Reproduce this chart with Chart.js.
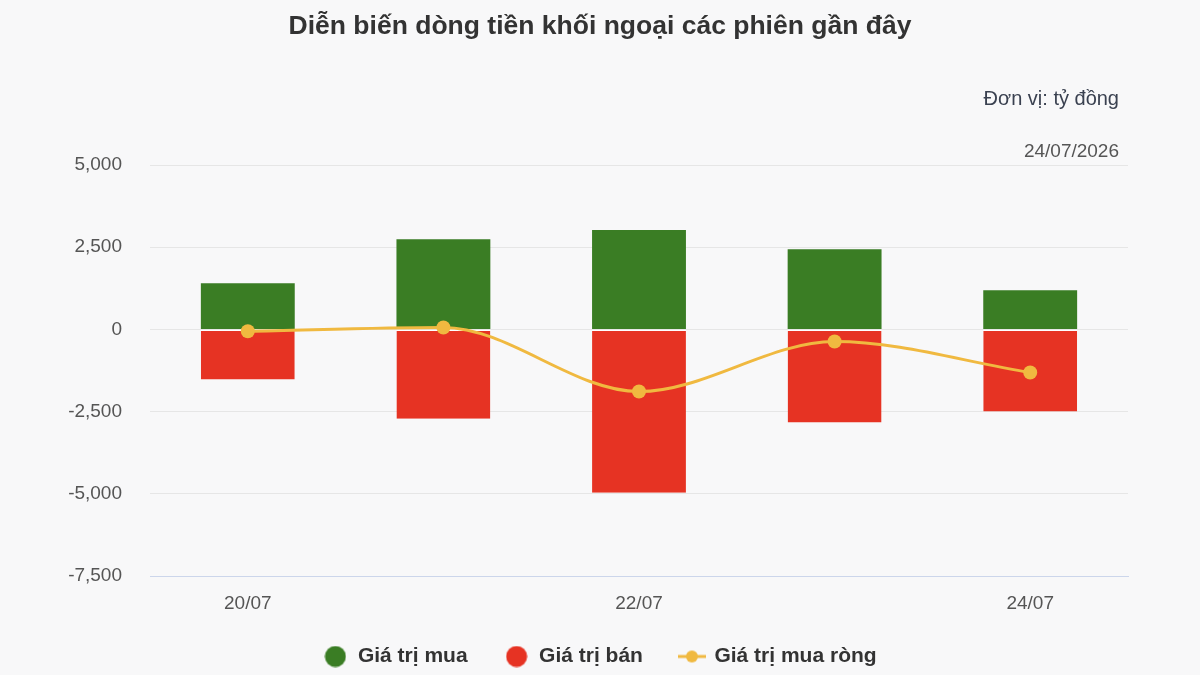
<!DOCTYPE html>
<html lang="vi">
<head>
<meta charset="utf-8">
<title>Diễn biến dòng tiền khối ngoại</title>
<script src="https://cdn.jsdelivr.net/npm/chart.js@4/dist/chart.umd.min.js"></script>
<style>
    html, body {
        margin: 0;
        padding: 0;
        background: #f8f8f9;
        font-family: 'Liberation Sans', Arial, sans-serif;
    }
    #wrap {
        position: relative;
        width: 1200px;
        height: 675px;
    }
    #chart-box {
        position: absolute;
        left: 0;
        top: 0;
        width: 1200px;
        height: 675px;
    }
    .title {
        position: absolute;
        left: 0;
        top: 9px;
        width: 1200px;
        text-align: center;
        font-size: 26.5px;
        line-height: 32px;
        font-weight: bold;
        color: #333333;
    }
    .note {
        position: absolute;
        right: 81px;
        white-space: nowrap;
    }
    #unit {
        top: 86px;
        font-size: 20px;
        line-height: 24px;
        color: #3a4150;
    }
    #date {
        top: 139px;
        font-size: 19px;
        line-height: 23px;
        color: #555555;
    }
</style>
</head>
<body>
<div id="wrap">
    <div id="chart-box"><canvas id="flowChart"></canvas></div>
    <div class="title">Diễn biến dòng tiền khối ngoại các phiên gần đây</div>
    <div class="note" id="unit">Đơn vị: tỷ đồng</div>
    <div class="note" id="date">24/07/2026</div>
</div>

<script>
// Data (tỷ đồng)
const sessions = ['20/07', '21/07', '22/07', '23/07', '24/07'];
const buyValues = [1400, 2745, 3020, 2440, 1190];
const sellValues = [-1525, -2715, -4970, -2835, -2500];
const netValues = [-55, 60, -1890, -370, -1310];
const yTicks = [-7500, -5000, -2500, 0, 2500, 5000];

const seriesNames = ['Giá trị mua', 'Giá trị bán', 'Giá trị mua ròng'];
const GREEN = '#3a7d24';
const RED = '#e63323';
const YELLOW = '#f0b940';

const Y_MIN = yTicks[0];
const Y_MAX = yTicks[yTicks.length - 1];
const Y_STEP = yTicks[1] - yTicks[0];

Chart.defaults.font.family = "'Liberation Sans', Arial, sans-serif";

// Legend symbols drawn on small canvases
function makeDotSymbol(color) {
    const c = document.createElement('canvas');
    c.width = 22;
    c.height = 22;
    const ctx = c.getContext('2d');
    ctx.fillStyle = color;
    ctx.beginPath();
    ctx.arc(11, 11, 10.5, 0, Math.PI * 2);
    ctx.fill();
    return c;
}

function makeLineSymbol(color) {
    const c = document.createElement('canvas');
    c.width = 28;
    c.height = 14;
    const ctx = c.getContext('2d');
    ctx.strokeStyle = color;
    ctx.lineWidth = 3;
    ctx.beginPath();
    ctx.moveTo(0, 7);
    ctx.lineTo(28, 7);
    ctx.stroke();
    ctx.fillStyle = color;
    ctx.beginPath();
    ctx.arc(14, 7, 6, 0, Math.PI * 2);
    ctx.fill();
    return c;
}
const legendSymbols = [makeDotSymbol(GREEN), makeDotSymbol(RED), makeLineSymbol(YELLOW)];

// Keep the legend short so the x labels sit close to it
const LEGEND_H = 66;
const legendHeightPlugin = {
    id: 'legendHeight',
    beforeInit(chart) {
        const legend = chart.legend;
        if (!legend) return;
        const fit = legend.fit;
        legend.fit = function() {
            fit.call(this);
            this.height = LEGEND_H;
        };
    }
};

const ctx = document.getElementById('flowChart').getContext('2d');
const flowChart = new Chart(ctx, {
    type: 'bar',
    data: {
        labels: sessions,
        datasets: [
            {
                type: 'bar',
                label: seriesNames[0],
                data: buyValues,
                backgroundColor: GREEN,
                borderWidth: 0,
                stack: 'flow',
                order: 1,
                barPercentage: 0.6,
                categoryPercentage: 0.8
            },
            {
                type: 'bar',
                label: seriesNames[1],
                data: sellValues,
                backgroundColor: RED,
                borderColor: '#ffffff',
                borderWidth: { top: 1, right: 0, bottom: 0, left: 0 },
                borderSkipped: false,
                stack: 'flow',
                order: 1,
                barPercentage: 0.6,
                categoryPercentage: 0.8
            },
            {
                type: 'line',
                label: seriesNames[2],
                data: netValues,
                borderColor: YELLOW,
                backgroundColor: YELLOW,
                borderWidth: 3,
                pointRadius: 7,
                pointHoverRadius: 7,
                pointBackgroundColor: YELLOW,
                pointBorderWidth: 0,
                cubicInterpolationMode: 'monotone',
                fill: false,
                stack: 'net',
                order: 0
            }
        ]
    },
    options: {
        responsive: true,
        maintainAspectRatio: false,
        animation: false,
        layout: {
            padding: { top: 165, right: 0, left: 0, bottom: 0 }
        },
        scales: {
            x: {
                stacked: true,
                grid: { display: false, drawTicks: false },
                border: { display: true, color: '#ccd6eb', width: 1 },
                ticks: {
                    autoSkip: false,
                    maxRotation: 0,
                    padding: 16,
                    color: '#555555',
                    font: { size: 19 },
                    callback: function(value, index) {
                        return index % 2 === 0 ? this.getLabelForValue(value) : '';
                    }
                },
                afterFit: function(scale) {
                    scale.height = 33;
                }
            },
            y: {
                stacked: true,
                min: Y_MIN,
                max: Y_MAX,
                border: { display: false },
                grid: {
                    drawTicks: false,
                    lineWidth: 1,
                    color: function(c) {
                        return c.tick && c.tick.value === Y_MIN ? '#ccd6eb' : '#e6e6e6';
                    }
                },
                ticks: {
                    stepSize: Y_STEP,
                    padding: 28,
                    color: '#555555',
                    font: { size: 19 },
                    callback: function(value) {
                        return Number(value).toLocaleString('en-US');
                    }
                },
                afterFit: function(scale) {
                    scale.width = 150;
                }
            },
            // empty right-hand gutter so the plot ends where the reference does
            gutter: {
                position: 'right',
                display: true,
                grid: { display: false, drawTicks: false },
                border: { display: false },
                ticks: { display: false },
                afterFit: function(scale) {
                    scale.width = 72;
                }
            }
        },
        plugins: {
            tooltip: { enabled: false },
            legend: {
                position: 'bottom',
                align: 'center',
                labels: {
                    usePointStyle: true,
                    pointStyleWidth: 24,
                    boxHeight: 15,
                    padding: 37,
                    color: '#333333',
                    font: { size: 21, weight: 'bold' },
                    sort: function(a, b) {
                        return a.datasetIndex - b.datasetIndex;
                    },
                    generateLabels: function(chart) {
                        const items = Chart.defaults.plugins.legend.labels.generateLabels(chart);
                        items.forEach(item => {
                            item.pointStyle = legendSymbols[item.datasetIndex];
                        });
                        return items;
                    }
                }
            }
        }
    },
    plugins: [legendHeightPlugin]
});
</script>
</body>
</html>
